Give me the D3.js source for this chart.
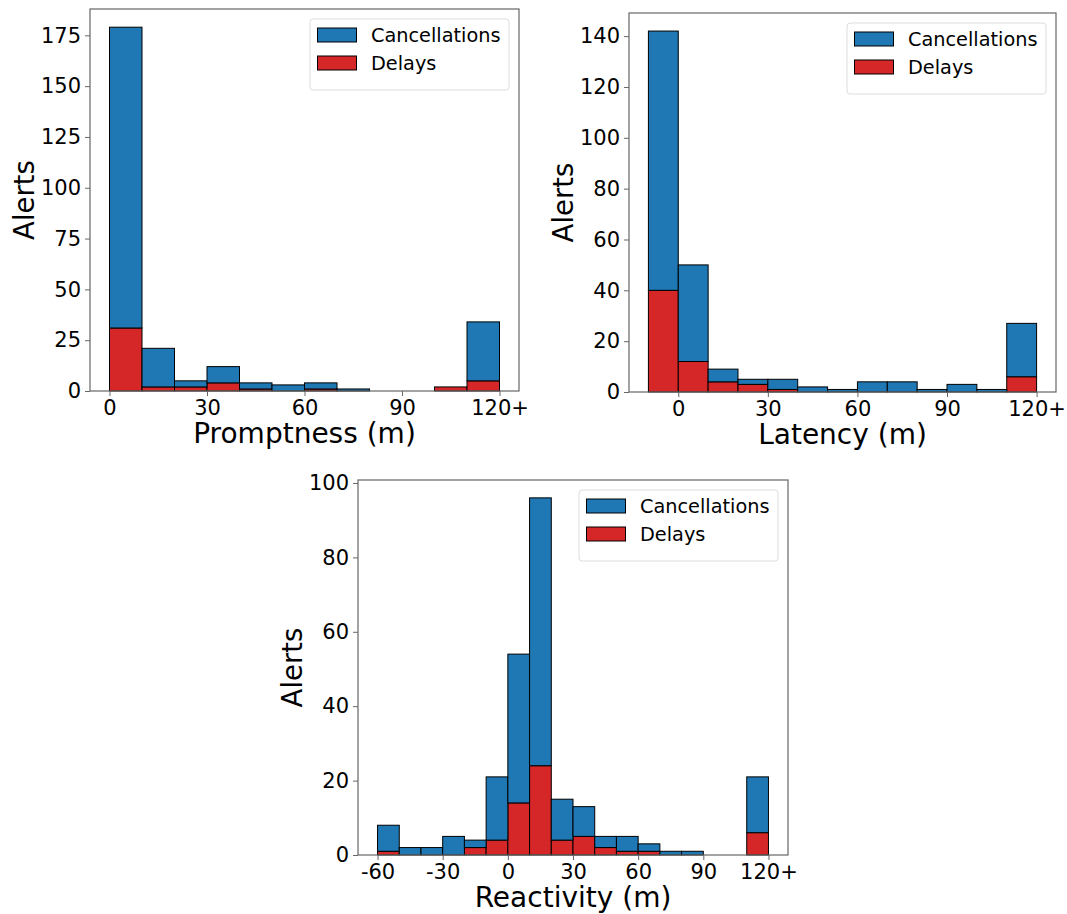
<!DOCTYPE html>
<html>
<head>
<meta charset="utf-8">
<script src="https://cdn.jsdelivr.net/npm/d3@7"></script>
<style>
  body { margin: 0; background: #fff; }
  text { font-family: "DejaVu Sans", sans-serif; fill: #000; }
</style>
</head>
<body>
<div id="vis"></div>
<script>
// bin left edges (10 minute bins), counts
var promptEdges = [0, 10, 20, 30, 40, 50, 60, 70, 80, 90, 100, 110];
var promptDelay = [31, 2, 2, 4, 1, 0, 1, 0, 0, 0, 2, 5];
var promptCancel = [148, 19, 3, 8, 3, 3, 3, 1, 0, 0, 0, 29];

var latencyEdges = [-10, 0, 10, 20, 30, 40, 50, 60, 70, 80, 90, 100, 110];
var latencyDelay = [40, 12, 4, 3, 1, 0, 0, 0, 0, 0, 0, 0, 6];
var latencyCancel = [102, 38, 5, 2, 4, 2, 1, 4, 4, 1, 3, 1, 21];

var reactEdges = [-60, -50, -40, -30, -20, -10, 0, 10, 20, 30, 40, 50, 60, 70, 80, 90, 100, 110];
var reactDelay = [1, 0, 0, 0, 2, 4, 14, 24, 4, 5, 2, 1, 1, 0, 0, 0, 0, 6];
var reactCancel = [7, 2, 2, 5, 2, 17, 40, 72, 11, 8, 3, 4, 2, 1, 1, 0, 0, 15];

var binWidth = 10;

var promptXTicks = [0, 30, 60, 90, 120];
var promptXLabels = ["0", "30", "60", "90", "120+"];
var latencyXTicks = [0, 30, 60, 90, 120];
var latencyXLabels = ["0", "30", "60", "90", "120+"];
var reactXTicks = [-60, -30, 0, 30, 60, 90, 120];
var reactXLabels = ["-60", "-30", "0", "30", "60", "90", "120+"];

var promptYTicks = [0, 25, 50, 75, 100, 125, 150, 175];
var latencyYTicks = [0, 20, 40, 60, 80, 100, 120, 140];
var reactYTicks = [0, 20, 40, 60, 80, 100];

var seriesNames = ["Cancellations", "Delays"];
var seriesColors = ["#1f77b4", "#d62728"];

var width = 1067, height = 914;
var svg = d3.select("#vis").append("svg")
    .attr("width", width)
    .attr("height", height);
svg.append("rect").attr("width", width).attr("height", height).attr("fill", "#fff");

/* Draw one stacked histogram panel.
 * box: frame of the axes in page pixels
 */
function drawPanel(box, edges, delay, cancel, xTicks, xLabels, yTicks, xTitle){
    var lo = d3.min(edges), hi = d3.max(edges) + binWidth;
    var pad = (hi - lo) * 0.05;
    var totals = edges.map(function(e, i){ return delay[i] + cancel[i]; });
    var x = d3.scaleLinear().domain([lo - pad, hi + pad]).range([box.l, box.r]);
    var y = d3.scaleLinear().domain([0, d3.max(totals) * 1.05]).range([box.b, box.t]);

    var g = svg.append("g");

    var bins = edges.map(function(e, i){
        return {x0: e, x1: e + binWidth, d: delay[i], c: cancel[i]};
    });

    // delays at the bottom
    g.selectAll(".delay").data(bins.filter(function(b){ return b.d > 0; }))
        .enter().append("rect")
        .attr("x", function(b){ return x(b.x0); })
        .attr("width", function(b){ return x(b.x1) - x(b.x0); })
        .attr("y", function(b){ return y(b.d); })
        .attr("height", function(b){ return y(0) - y(b.d); })
        .attr("fill", seriesColors[1])
        .attr("stroke", "#000")
        .attr("stroke-width", 1);

    // cancellations stacked on top
    g.selectAll(".cancel").data(bins.filter(function(b){ return b.c > 0; }))
        .enter().append("rect")
        .attr("x", function(b){ return x(b.x0); })
        .attr("width", function(b){ return x(b.x1) - x(b.x0); })
        .attr("y", function(b){ return y(b.d + b.c); })
        .attr("height", function(b){ return y(b.d) - y(b.d + b.c); })
        .attr("fill", seriesColors[0])
        .attr("stroke", "#000")
        .attr("stroke-width", 1);

    // frame
    g.append("rect")
        .attr("x", box.l).attr("y", box.t)
        .attr("width", box.r - box.l).attr("height", box.b - box.t)
        .attr("fill", "none")
        .attr("stroke", "#666")
        .attr("stroke-width", 1.2);

    var xAxis = g.append("g")
        .attr("transform", "translate(0," + box.b + ")")
        .call(d3.axisBottom(x).tickValues(xTicks)
            .tickFormat(function(d, i){ return xLabels[i]; })
            .tickSize(5).tickSizeOuter(0).tickPadding(4));
    var yAxis = g.append("g")
        .attr("transform", "translate(" + box.l + ",0)")
        .call(d3.axisLeft(y).tickValues(yTicks)
            .tickSize(5).tickSizeOuter(0).tickPadding(4));
    [xAxis, yAxis].forEach(function(a){
        a.select(".domain").remove();
        a.selectAll("line").attr("stroke", "#666");
        a.selectAll("text")
            .style("font-family", "DejaVu Sans, sans-serif")
            .style("font-size", "21px")
            .attr("fill", "#000");
    });

    g.append("text")
        .attr("x", (box.l + box.r) / 2)
        .attr("y", box.b + 52)
        .attr("text-anchor", "middle")
        .style("font-size", "28px")
        .text(xTitle);
    g.append("text")
        .attr("transform", "translate(" + (box.l - 56) + "," + ((box.t + box.b) / 2) + ") rotate(-90)")
        .attr("text-anchor", "middle")
        .style("font-size", "27.5px")
        .text("Alerts");

    // legend in the upper right corner
    var lw = 199, lh = 71;
    var leg = g.append("g")
        .attr("transform", "translate(" + (box.r - 10 - lw) + "," + (box.t + 10) + ")");
    leg.append("rect")
        .attr("width", lw).attr("height", lh)
        .attr("rx", 3)
        .attr("fill", "#fff")
        .attr("fill-opacity", 0.8)
        .attr("stroke", "#ddd")
        .attr("stroke-width", 1);
    seriesNames.forEach(function(name, i){
        leg.append("rect")
            .attr("x", 7.5).attr("y", 9 + i * 28)
            .attr("width", 39).attr("height", 14)
            .attr("fill", seriesColors[i])
            .attr("stroke", "#000")
            .attr("stroke-width", 1);
        leg.append("text")
            .attr("x", 61).attr("y", 16 + i * 28)
            .attr("dy", "0.35em")
            .style("font-size", "19.3px")
            .text(name);
    });
}

drawPanel({l: 90, r: 519, t: 9, b: 391}, promptEdges, promptDelay, promptCancel,
    promptXTicks, promptXLabels, promptYTicks, "Promptness (m)");
drawPanel({l: 629, r: 1056, t: 13, b: 392}, latencyEdges, latencyDelay, latencyCancel,
    latencyXTicks, latencyXLabels, latencyYTicks, "Latency (m)");
drawPanel({l: 358, r: 788, t: 480, b: 855}, reactEdges, reactDelay, reactCancel,
    reactXTicks, reactXLabels, reactYTicks, "Reactivity (m)");
</script>
</body>
</html>
